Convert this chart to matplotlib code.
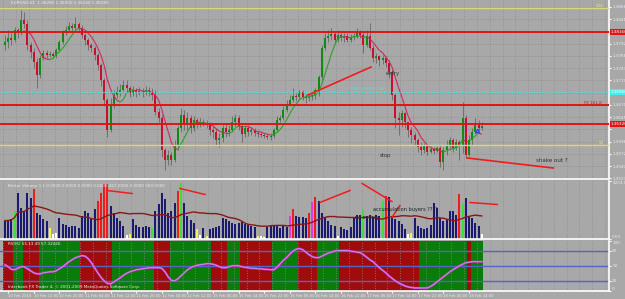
import numpy as np
import pandas as pd
import matplotlib
matplotlib.use("Agg")
from matplotlib import pyplot as plt
from matplotlib.collections import LineCollection

# EURUSD H1, 10-18 Feb 2010
first_open = 1.3790
close = [1.3796, 1.3804, 1.3800, 1.3820, 1.3814, 1.3840, 1.3832, 1.3790, 1.3776, 1.3756,
         1.3730, 1.3764, 1.3774, 1.3770, 1.3772, 1.3768, 1.3780, 1.3796, 1.3814, 1.3820,
         1.3828, 1.3824, 1.3832, 1.3824, 1.3810, 1.3800, 1.3790, 1.3784, 1.3770, 1.3750,
         1.3720, 1.3680, 1.3620, 1.3670, 1.3690, 1.3696, 1.3700, 1.3710, 1.3704, 1.3694,
         1.3700, 1.3696, 1.3698, 1.3694, 1.3700, 1.3696, 1.3690, 1.3656, 1.3644, 1.3580,
         1.3560, 1.3570, 1.3560, 1.3590, 1.3624, 1.3650, 1.3630, 1.3644, 1.3624, 1.3640,
         1.3632, 1.3636, 1.3634, 1.3630, 1.3620, 1.3616, 1.3600, 1.3604, 1.3624, 1.3616,
         1.3620, 1.3636, 1.3644, 1.3628, 1.3612, 1.3624, 1.3616, 1.3620, 1.3614, 1.3612,
         1.3610, 1.3608, 1.3606, 1.3608, 1.3620, 1.3640, 1.3644, 1.3660, 1.3672, 1.3680,
         1.3688, 1.3686, 1.3696, 1.3686, 1.3684, 1.3686, 1.3690, 1.3700, 1.3726, 1.3784,
         1.3804, 1.3808, 1.3812, 1.3800, 1.3810, 1.3804, 1.3808, 1.3800, 1.3806, 1.3808,
         1.3816, 1.3810, 1.3790, 1.3808, 1.3784, 1.3764, 1.3768, 1.3760, 1.3764, 1.3754,
         1.3736, 1.3690, 1.3644, 1.3640, 1.3654, 1.3636, 1.3620, 1.3610, 1.3600, 1.3586,
         1.3580, 1.3588, 1.3576, 1.3582, 1.3578, 1.3584, 1.3556, 1.3580, 1.3590, 1.3600,
         1.3584, 1.3596, 1.3590, 1.3644, 1.3570, 1.3600, 1.3616, 1.3630, 1.3624, 1.3628]
high = [1.3810, 1.3820, 1.3814, 1.3826, 1.3824, 1.3860, 1.3856, 1.3840, 1.3796, 1.3784,
        1.3764, 1.3770, 1.3780, 1.3780, 1.3778, 1.3776, 1.3784, 1.3800, 1.3820, 1.3828,
        1.3836, 1.3834, 1.3846, 1.3836, 1.3830, 1.3814, 1.3804, 1.3794, 1.3788, 1.3774,
        1.3754, 1.3724, 1.3684, 1.3684, 1.3700, 1.3708, 1.3712, 1.3720, 1.3720, 1.3708,
        1.3708, 1.3704, 1.3706, 1.3704, 1.3708, 1.3706, 1.3704, 1.3700, 1.3664, 1.3650,
        1.3584, 1.3580, 1.3576, 1.3600, 1.3630, 1.3664, 1.3660, 1.3656, 1.3650, 1.3648,
        1.3644, 1.3644, 1.3642, 1.3640, 1.3636, 1.3628, 1.3624, 1.3614, 1.3630, 1.3632,
        1.3630, 1.3648, 1.3652, 1.3650, 1.3632, 1.3628, 1.3630, 1.3626, 1.3624, 1.3620,
        1.3616, 1.3614, 1.3612, 1.3614, 1.3624, 1.3648, 1.3650, 1.3668, 1.3680, 1.3690,
        1.3704, 1.3694, 1.3700, 1.3700, 1.3692, 1.3690, 1.3696, 1.3704, 1.3730, 1.3790,
        1.3814, 1.3820, 1.3824, 1.3816, 1.3820, 1.3814, 1.3814, 1.3814, 1.3812, 1.3814,
        1.3824, 1.3820, 1.3816, 1.3820, 1.3834, 1.3790, 1.3774, 1.3770, 1.3770, 1.3768,
        1.3760, 1.3740, 1.3694, 1.3656, 1.3660, 1.3656, 1.3636, 1.3626, 1.3616, 1.3604,
        1.3596, 1.3594, 1.3590, 1.3588, 1.3586, 1.3588, 1.3590, 1.3586, 1.3600, 1.3606,
        1.3604, 1.3602, 1.3600, 1.3676, 1.3650, 1.3610, 1.3624, 1.3644, 1.3640, 1.3636]
low = [1.3780, 1.3784, 1.3790, 1.3796, 1.3804, 1.3810, 1.3824, 1.3780, 1.3764, 1.3744,
       1.3704, 1.3724, 1.3760, 1.3764, 1.3766, 1.3764, 1.3764, 1.3776, 1.3792, 1.3810,
       1.3816, 1.3818, 1.3820, 1.3816, 1.3804, 1.3790, 1.3780, 1.3776, 1.3760, 1.3740,
       1.3708, 1.3668, 1.3606, 1.3616, 1.3664, 1.3684, 1.3688, 1.3694, 1.3696, 1.3686,
       1.3688, 1.3686, 1.3690, 1.3686, 1.3690, 1.3688, 1.3680, 1.3650, 1.3636, 1.3566,
       1.3540, 1.3550, 1.3550, 1.3556, 1.3580, 1.3616, 1.3620, 1.3620, 1.3614, 1.3618,
       1.3624, 1.3626, 1.3628, 1.3624, 1.3610, 1.3604, 1.3590, 1.3586, 1.3596, 1.3606,
       1.3608, 1.3616, 1.3628, 1.3620, 1.3596, 1.3606, 1.3608, 1.3610, 1.3608, 1.3606,
       1.3606, 1.3604, 1.3602, 1.3600, 1.3604, 1.3616, 1.3636, 1.3640, 1.3656, 1.3668,
       1.3676, 1.3678, 1.3682, 1.3680, 1.3674, 1.3678, 1.3680, 1.3682, 1.3688, 1.3720,
       1.3780, 1.3796, 1.3800, 1.3794, 1.3796, 1.3798, 1.3796, 1.3796, 1.3796, 1.3800,
       1.3804, 1.3804, 1.3774, 1.3786, 1.3780, 1.3756, 1.3754, 1.3748, 1.3752, 1.3746,
       1.3724, 1.3680, 1.3624, 1.3610, 1.3626, 1.3624, 1.3606, 1.3594, 1.3590, 1.3576,
       1.3570, 1.3574, 1.3570, 1.3574, 1.3572, 1.3576, 1.3546, 1.3540, 1.3570, 1.3580,
       1.3576, 1.3580, 1.3560, 1.3574, 1.3564, 1.3568, 1.3590, 1.3614, 1.3618, 1.3620]

# Better Volume tick volumes and bar class (b blue, r climax, g churn, w low, y low churn, m climax churn)
volume = [1620, 1620, 1800, 2520, 4140, 2790, 2520, 4140, 3690, 4500,
          2340, 2160, 1800, 1620, 990, 450, 540, 1890, 1350, 1260,
          1080, 1170, 1170, 990, 2070, 2520, 2340, 1890, 2700, 3420,
          4140, 4950, 4950, 2970, 2340, 1890, 1620, 1170, 360, 450,
          1800, 1260, 1080, 1080, 1170, 1080, 990, 2520, 3150, 4140,
          3600, 2340, 2520, 3240, 4320, 5040, 3240, 2070, 1710, 1440,
          900, 360, 990, 270, 900, 990, 1080, 1170, 1890, 1800,
          1620, 1440, 1350, 1440, 1530, 1350, 1260, 1170, 1080, 270,
          270, 180, 1080, 1170, 1260, 1170, 990, 1260, 1080, 2070,
          2700, 2070, 1980, 1980, 1890, 2340, 3330, 3780, 3420, 2340,
          1890, 1620, 1260, 1170, 270, 1080, 900, 810, 1080, 1890,
          2160, 2160, 2610, 2070, 2160, 1980, 2160, 2070, 3420, 3870,
          3780, 2070, 1800, 1620, 1350, 900, 450, 540, 1890, 1170,
          990, 900, 990, 1260, 3240, 2790, 1890, 1620, 1710, 2520,
          2520, 2160, 4050, 3240, 3690, 2070, 1890, 1440, 1170, 450]
vol_class = ("bbbgbbbbbr" "bbbbywwbbb" "bbbbbbbbbr" "rrrbbbbbwy" "bbbbbbgbbb"
             "bbbbrgbbbb" "ywbybbbbbb" "bbbbbbbbby" "wwbbbbbbbm" "rbbbbrmrbb"
             "bbbbwbbbbb" "bbgbbbbbgr" "bbbbbbwybb" "bbbbbbbbbb" "bbrgbbbbbw")

rsi = [52, 48, 43, 42, 45, 48, 48, 44, 40, 36,
       34, 34, 36, 37, 38, 38, 40, 44, 48, 53,
       58, 62, 66, 68, 70, 69, 64, 56, 46, 36,
       27, 20, 15, 14, 18, 22, 26, 31, 35, 38,
       40, 42, 43, 44, 45, 46, 46, 46, 46, 45,
       38, 28, 21, 20, 24, 30, 36, 42, 46, 49,
       51, 52, 53, 54, 54, 53, 51, 48, 46, 46,
       48, 50, 50, 50, 48, 47, 46, 45, 45, 44,
       44, 43, 43, 42, 42, 47, 54, 61, 66, 73,
       79, 83, 84, 82, 77, 72, 68, 66, 66, 69,
       72, 75, 77, 79, 80, 80, 80, 80, 79, 78,
       77, 76, 72, 67, 62, 58, 52, 46, 41, 36,
       30, 25, 20, 16, 13, 10, 8, 7, 6, 6,
       6, 6, 6, 9, 13, 18, 23, 28, 33, 38,
       42, 46, 50, 53, 56, 57, 58, 58, 58, 58]
# bar index where the RSI background flips colour (starts red)
rsi_zone_starts = [0, 3, 6, 11, 24, 34, 47, 52, 65, 70, 74, 84, 92, 98, 105, 130, 145, 146]

time_labels = ["10 Feb 2010", "10 Feb 12:00", "10 Feb 20:00", "11 Feb 04:00", "11 Feb 12:00",
               "11 Feb 20:00", "12 Feb 04:00", "12 Feb 12:00", "15 Feb 06:00", "15 Feb 14:00",
               "15 Feb 22:00", "16 Feb 06:00", "16 Feb 14:00", "16 Feb 22:00", "17 Feb 06:00",
               "17 Feb 14:00", "17 Feb 22:00", "18 Feb 06:00", "18 Feb 14:00"]

# horizontal levels drawn on the chart
levels_red = [1.3816, 1.3670, 1.3632]
levels_yellow = [1.3864, 1.3590]
level_cyan = 1.3696
# hand drawn trendlines (bar, price/volume)
price_trends = [((94.7, 1.3690), (114.4, 1.3746)), ((144.4, 1.3564), (171.3, 1.3544))]
volume_trends = [((31.9, 4320), (39.7, 4050)), ((54.7, 4500), (62.5, 3960)),
                 ((98.4, 3240), (107.8, 4320)), ((111.6, 4950), (120.9, 3330)),
                 ((120.9, 1890), (123.4, 2970)), ((145.3, 3240), (153.8, 3060))]

n = len(close)
assert len(high) == n and len(low) == n and len(volume) == n and len(vol_class) == n and len(rsi) == n

close = np.array(close)
opens = np.concatenate([[first_open], close[:-1]])
high = np.maximum(np.array(high), np.maximum(opens, close))
low = np.minimum(np.array(low), np.minimum(opens, close))
x = np.arange(n)

BG = "#a8a8a8"
GRID = "#8a8a8a"
TXT = "#ececec"
FS = 3.0
W, H = 625, 299
XL = (-5 / 3.2, (609 - 5) / 3.2)

fig = plt.figure(figsize=(W / 100, H / 100), dpi=100, facecolor=BG)


def panel(top, bottom):
    ax = fig.add_axes([0, 1 - bottom / H, 609 / W, (bottom - top) / H], facecolor=BG)
    ax.set_xlim(*XL)
    for s in ["left", "top"]:
        ax.spines[s].set_visible(False)
    for s in ["right", "bottom"]:
        ax.spines[s].set_color("white")
        ax.spines[s].set_linewidth(1.2)
    ax.yaxis.tick_right()
    ax.tick_params(axis="y", labelsize=FS, labelcolor=TXT, color="white", length=1.5, pad=0.8)
    ax.set_xticks([])
    for gx in np.arange(-0.5, XL[1], 4):
        ax.axvline(gx, color=GRID, lw=0.6, ls=(0, (1, 2)), zorder=1.5)
    return ax


# ---- main price panel
ax = panel(0, 178.5)
ax.set_ylim(1.3880 - 0.0002 * 178.5, 1.3880)
boxed = [levels_red[0], levels_red[2], level_cyan]
yt = 1.3866 - 0.00245 * np.arange(15)
ax.set_yticks(yt)
# tick labels hidden where a price box sits on the axis
ax.set_yticklabels(["" if min(abs(v - b) for b in boxed) < 0.0012 else "%.5f" % v for v in yt])
for v in yt:
    ax.axhline(v, color=GRID, lw=0.6, ls=(0, (1, 2)), zorder=1)

up = close >= opens
ax.vlines(x, low, high, color="#707070", lw=0.7, zorder=2)
body = np.maximum(np.abs(close - opens), 0.00008)
ax.bar(x, body, bottom=np.minimum(opens, close), width=0.62,
       color=np.where(up, "#138a13", "#c8102e"), zorder=2.5)

ma = pd.Series(close).rolling(6).mean().values
pts = np.column_stack([x, ma])
segs = [pts[i - 1:i + 1] for i in range(6, n)]
cols = ["#2aa02a" if ma[i] > ma[i - 1] else "#d02858" for i in range(6, n)]
ax.add_collection(LineCollection(segs, colors=cols, linewidths=0.8, zorder=3))

for lv in levels_red:
    ax.axhline(lv, color="#e01414", lw=1.4, zorder=4)
for lv in levels_yellow:
    ax.axhline(lv, color="#d8d878", lw=1.0, zorder=4)
ax.axhline(level_cyan, color="#48e4e4", lw=1.0, ls=(0, (1, 1)), zorder=4)
for (a, b) in price_trends:
    ax.plot([a[0], b[0]], [a[1], b[1]], color="#f01c1c", lw=1.2, zorder=5)

ax.text(2, 1.3873, "EURUSD,H1  1.36280 1.36300 1.36240 1.36280", fontsize=FS, color=TXT, va="center")
ax.text(119, 1.3729, "entry", fontsize=3.8, color="#303030")
ax.text(117, 1.3566, "stop", fontsize=3.8, color="#303030")
ax.text(166, 1.3556, "shake out ?", fontsize=4.0, color="#303030")
ax.text(108, 1.3699, "EMP 1.36960 H4", fontsize=FS, color="#48e4e4")
ax.text(181, 1.3672, "FE 161.8", fontsize=FS, color="#e01414")
ax.text(184.5, 1.3866, "234", fontsize=FS, color="#e0e080")
ax.text(185.5, 1.3592, "50", fontsize=FS, color="#e0e080")
ax.text(146.9, 1.3612, "A", fontsize=5, color="#2848d8", fontweight="bold")

tr = ax.get_yaxis_transform()
for lv, fc in [(levels_red[0], "#e01414"), (levels_red[2], "#e01414"), (level_cyan, "#40f0f0")]:
    ax.text(1.002, lv, "%.5f" % lv, transform=tr, fontsize=FS, color="white", va="center", ha="left",
            bbox=dict(facecolor=fc, edgecolor="none", pad=0.4), clip_on=False, zorder=6)

# ---- Better Volume panel
av = panel(180.5, 238.5)
av.set_ylim(0, 5220)
av.set_yticks([0, 5200])
av.set_yticklabels(["0.00", "5203.0"])
av.get_yticklabels()[0].set_va("bottom")
av.get_yticklabels()[1].set_va("top")
cmap = {"b": "#1a1a70", "r": "#ee1c1c", "g": "#38e038", "w": "#ffffff", "y": "#f4f44a", "m": "#e03ce0"}
av.bar(x, volume, width=0.62, color=[cmap[c] for c in vol_class], zorder=2)
vma = pd.Series(volume).rolling(20, min_periods=1).mean().values
av.plot(x, vma, color="#8a1616", lw=1.0, zorder=3)
for (a, b) in volume_trends:
    av.plot([a[0], b[0]], [a[1], b[1]], color="#f01c1c", lw=1.1, zorder=4)
av.text(1, 4750, "Better Volume 1.1 0.0000 0.0000 0.0000 0.0000 267.0000 0.0000 560.0000",
        fontsize=FS, color=TXT, va="center")
av.text(115, 2430, "accumulation buyers ????", fontsize=3.6, color="#202020", zorder=5)
av.text(109.5, 1800, "no supply", fontsize=3.6, color="#202020", zorder=5)

# ---- RSI panel
ar = panel(240.5, 291)
ar.set_ylim(0, 100)
ar.set_yticks([0, 20, 50, 80, 100])
ar.get_yticklabels()[0].set_va("bottom")
ar.get_yticklabels()[-1].set_va("top")
bounds = rsi_zone_starts + [n]
for k in range(len(rsi_zone_starts)):
    ar.axvspan(bounds[k] - 0.5, bounds[k + 1] - 0.5, color="#a00c0c" if k % 2 == 0 else "#0a7c0a",
               lw=0, zorder=1)
for lv in [20, 50, 80]:
    ar.axhline(lv, color="#5464c8", lw=1.0, zorder=2)
ar.plot(x, rsi, color="#d23cd2", lw=1.5, zorder=3)
ar.plot(x, rsi, color="#b4a8e8", lw=0.5, zorder=3.5)
ar.text(1, 93, "RSI(5) 55.13 49 57.32426", fontsize=FS, color=TXT, va="center")
ar.text(1, 7, "Interbank FX Trader 4, \u00a9 2001-2009 MetaQuotes Software Corp.",
        fontsize=FS, color=TXT, va="center")
ar.set_xticks(1 + 8 * np.arange(len(time_labels)))
ar.set_xticklabels(time_labels, ha="left")
ar.tick_params(axis="x", labelsize=2.7, labelcolor=TXT, color="white", length=1.5, pad=0.5)

fig.savefig("out.png", dpi=100, facecolor=BG)
